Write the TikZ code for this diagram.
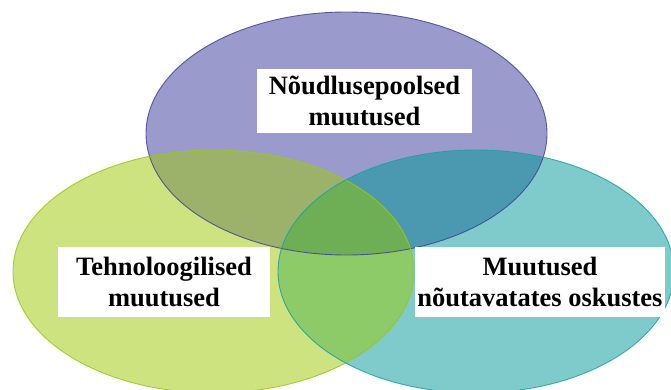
\documentclass[tikz,border=0pt]{standalone}
\usepackage{fontspec}
\setmainfont{Liberation Serif}
\begin{document}
\begin{tikzpicture}[x=1pt,y=-1pt,
  lbl/.style={fill=white, inner sep=0pt, align=center,
    font=\bfseries\fontsize{26.5}{31}\selectfont},
  topfill/.style={fill={rgb,255:red,154;green,154;blue,204}},
  leftfill/.style={fill={rgb,255:red,205;green,227;blue,128}},
  rightfill/.style={fill={rgb,255:red,127;green,203;blue,204}},
  tlfill/.style={fill={rgb,255:red,156;green,178;blue,107}},
  trfill/.style={fill={rgb,255:red,75;green,153;blue,177}},
  lrfill/.style={fill={rgb,255:red,140;green,203;blue,104}},
  allfill/.style={fill={rgb,255:red,110;green,175;blue,85}},
  topline/.style={draw={rgb,255:red,60;green,60;blue,145}, line width=0.9pt, draw opacity=0.8},
  leftline/.style={draw={rgb,255:red,156;green,196;blue,28}, line width=0.9pt, draw opacity=0.85},
  rightline/.style={draw={rgb,255:red,30;green,160;blue,162}, line width=0.9pt, draw opacity=0.85}]
\useasboundingbox (0,0) rectangle (671,389);
\def\topE{(346.5,133.5) ellipse [x radius=200.5, y radius=121.5]}
\def\leftE{(213.5,271.5) ellipse [x radius=200.5, y radius=121.5]}
\def\rightE{(476,271.5) ellipse [x radius=198, y radius=121.5]}
% plain regions
\fill[topfill] \topE;
\fill[leftfill] \leftE;
\fill[rightfill] \rightE;
% pairwise overlaps
\begin{scope}\clip \topE; \fill[tlfill] \leftE; \fill[trfill] \rightE; \end{scope}
\begin{scope}\clip \leftE; \fill[lrfill] \rightE; \end{scope}
% centre overlap
\begin{scope}\clip \topE; \clip \leftE; \fill[allfill] \rightE; \end{scope}
% outlines
\draw[topline] \topE;
\draw[leftline] \leftE;
\draw[rightline] \rightE;
% labels
\node[lbl, minimum width=215pt, minimum height=64pt] (demand) at (364.5,101) {Nõudlusepoolsed\\muutused};
\node[lbl, minimum width=212pt, minimum height=70pt] (tech) at (164,282) {Tehnoloogilised\\muutused};
\node[lbl, minimum width=250pt, minimum height=70pt] (skills) at (540,282) {Muutused\\nõutavatates oskustes};
\end{tikzpicture}
\end{document}
